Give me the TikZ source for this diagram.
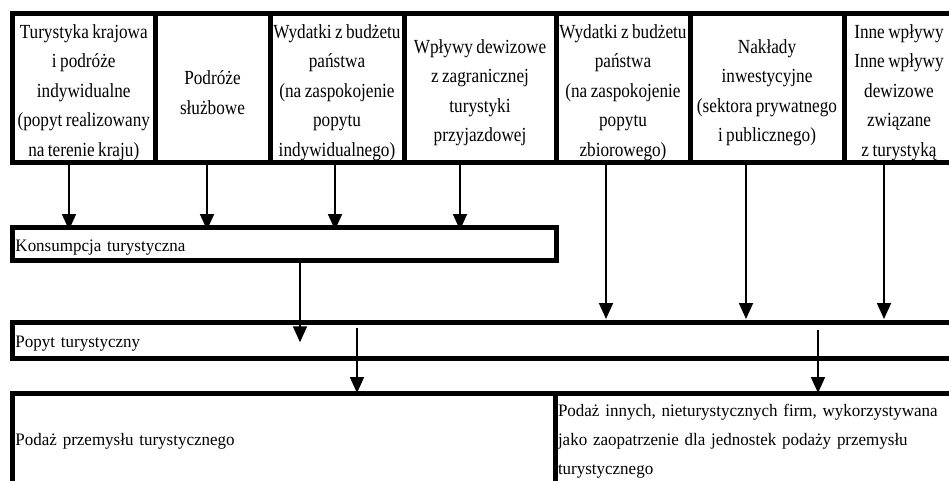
\documentclass[tikz,border=0pt]{standalone}
\usepackage{fontspec}
\setmainfont{Liberation Serif}
\newfontfamily\narrowserif[FakeStretch=0.86,WordSpace=0.8]{Liberation Serif}
\newfontfamily\barserif[FakeStretch=0.97,WordSpace=0.7]{Liberation Serif}
\usetikzlibrary{arrows.meta,positioning}

\begin{document}
\begin{tikzpicture}[x=1pt,y=-1pt,>={Triangle[width=14pt,length=16pt]},
  cell/.style={draw,line width=5pt,inner sep=0pt,outer sep=0pt,minimum height=149pt},
  celltext/.style={align=center,inner sep=0pt,font=\narrowserif\fontsize{20pt}{29.5pt}\selectfont},
  bar/.style={draw,line width=5pt,inner xsep=3pt,inner ysep=0pt,outer sep=0pt,anchor=north west,align=left,
    font=\barserif\fontsize{17.5pt}{29pt}\selectfont},
  lowtext/.style={text height=15pt,text depth=0pt},
  arr/.style={->,line width=1.8pt}]
\useasboundingbox (0,0) rectangle (949,480);
\clip (0,0) rectangle (949,480);

% top row
\node[cell,minimum width=142.5pt] (t1) at (83.75,87.5) {};
\node[cell,minimum width=115pt,right=0pt of t1] (t2) {};
\node[cell,minimum width=134pt,right=0pt of t2] (t3) {};
\node[cell,minimum width=152pt,right=0pt of t3] (t4) {};
\node[cell,minimum width=134pt,right=0pt of t4] (t5) {};
\node[cell,minimum width=154pt,right=0pt of t5] (t6) {};
\node[cell,minimum width=110pt,right=0pt of t6] (t7) {};
\node[celltext] (t1txt) at ([yshift=-5pt]t1.center) {Turystyka krajowa\\i podróże\\indywidualne\\(popyt realizowany\\na terenie kraju)};
\node[celltext] (t2txt) at ([yshift=-5pt]t2.center) {Podróże\\służbowe};
\node[celltext] (t3txt) at ([yshift=-5pt]t3.center) {Wydatki z budżetu\\państwa\\(na zaspokojenie\\popytu\\indywidualnego)};
\node[celltext] (t4txt) at ([yshift=-5pt]t4.center) {Wpływy dewizowe\\z zagranicznej\\turystyki\\przyjazdowej};
\node[celltext] (t5txt) at ([yshift=-5pt]t5.center) {Wydatki z budżetu\\państwa\\(na zaspokojenie\\popytu\\zbiorowego)};
\node[celltext] (t6txt) at ([yshift=-5pt]t6.center) {Nakłady\\inwestycyjne\\(sektora prywatnego\\i publicznego)};
\node[celltext] (t7txt) at ([yshift=-5pt]t7.center) {Inne wpływy\\Inne wpływy\\dewizowe\\związane\\z turystyką};

% middle and bottom boxes
\node[bar,lowtext,text width=537.5pt,minimum height=33pt] (kons) at (12.5,227) {Konsumpcja turystyczna};
\node[bar,lowtext,text width=941.5pt,minimum height=36.5pt] (popyt) at (12.5,322) {Popyt turystyczny};
\node[bar,text width=536.5pt,minimum height=97pt] (sup) at (12.5,393) {Podaż przemysłu turystycznego};
\node[bar,text width=399pt,minimum height=97pt] (sup2) at (555,393) {Podaż innych, nieturystycznych firm, wykorzystywana\\jako zaopatrzenie dla jednostek podaży przemysłu\\turystycznego};

% arrows
\draw[arr,shorten >=-3pt] ([xshift=-14.75pt]t1.south) -- ([xshift=-14.75pt]t1.south |- kons.north);
\draw[arr,shorten >=-3pt] ([xshift=-5.5pt]t2.south) -- ([xshift=-5.5pt]t2.south |- kons.north);
\draw[arr,shorten >=-3pt] ([xshift=-2pt]t3.south) -- ([xshift=-2pt]t3.south |- kons.north);
\draw[arr,shorten >=-3pt] ([xshift=-20pt]t4.south) -- ([xshift=-20pt]t4.south |- kons.north);
\draw[arr,shorten >=3pt] ([xshift=-17pt]t5.south) -- ([xshift=-17pt]t5.south |- popyt.north);
\draw[arr,shorten >=3pt] ([xshift=-21pt]t6.south) -- ([xshift=-21pt]t6.south |- popyt.north);
\draw[arr,shorten >=3pt] ([xshift=-15pt]t7.south) -- ([xshift=-15pt]t7.south |- popyt.north);
\draw[arr,shorten >=-2pt] ([xshift=15.75pt]kons.south) -- ([xshift=15.75pt]kons.south |- popyt.center);
\coordinate (p1) at (357,328);
\coordinate (p2) at (818,330);
\draw[arr] (p1) -- (p1 |- sup.north);
\draw[arr] (p2) -- (p2 |- sup2.north);
\end{tikzpicture}
\end{document}
